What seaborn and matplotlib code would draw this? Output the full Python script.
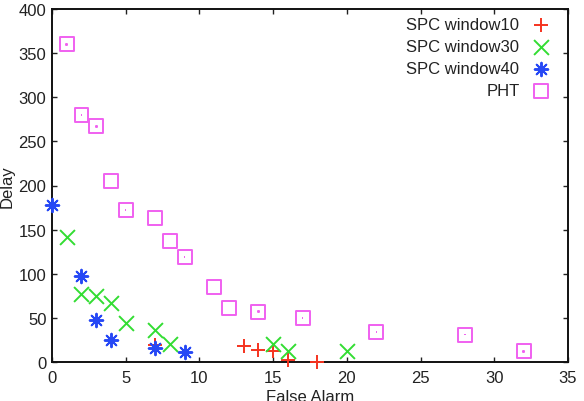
import matplotlib
matplotlib.use("Agg")
import matplotlib.pyplot as plt
from matplotlib.path import Path
import seaborn as sns
import numpy as np
import pandas as pd

# ---- data ----
w10_x = [7, 13, 14, 15, 16, 18]
w10_y = [19, 18, 14, 12, 2, 0]

w30_x = [1, 2, 3, 4, 5, 7, 8, 15, 16, 20]
w30_y = [142, 77, 75, 67, 44, 36, 20, 20, 13, 13]

w40_x = [0, 2, 3, 4, 7, 9]
w40_y = [178, 97, 48, 25, 16, 11]

pht_x = [1, 2, 3, 4, 5, 7, 8, 9, 11, 12, 14, 17, 22, 28, 32]
pht_y = [360, 280, 267, 205, 172, 163, 137, 119, 85, 61, 57, 50, 34, 31, 12]

labels = ["SPC window10", "SPC window30", "SPC window40", "PHT"]
x_ticks = [0, 5, 10, 15, 20, 25, 30, 35]
y_ticks = [0, 50, 100, 150, 200, 250, 300, 350, 400]

sns.set_theme(style="white")
plt.rcParams["font.family"] = ["Liberation Sans", "DejaVu Sans"]

fig = plt.figure(figsize=(5.84, 4.02), dpi=100)
ax = fig.add_axes([52 / 584, 1 - 363 / 402, (568 - 52) / 584, 353 / 402])

# square with centre dot marker (gnuplot style)
sq_verts = [(-0.5, -0.5), (0.5, -0.5), (0.5, 0.5), (-0.5, 0.5), (-0.5, -0.5),
            (-0.02, -0.02), (0.02, -0.02), (0.02, 0.02), (-0.02, 0.02), (-0.02, -0.02)]
sq_codes = [Path.MOVETO, Path.LINETO, Path.LINETO, Path.LINETO, Path.CLOSEPOLY,
            Path.MOVETO, Path.LINETO, Path.LINETO, Path.LINETO, Path.CLOSEPOLY]
sq_marker = Path(sq_verts, sq_codes)

red = "#f5331f"
green = "#33dd33"
blue = "#2648f5"
magenta = "#f060f0"

series = [
    (w10_x, w10_y, labels[0], "+", red, 90),
    (w30_x, w30_y, labels[1], "x", green, 115),
    (w40_x, w40_y, labels[2], (8, 2, 0), blue, 95),
]
for xs, ys, lab, mk, col, size in series:
    sns.scatterplot(x=xs, y=ys, ax=ax, marker=mk, color=col, s=size,
                    linewidth=1.4, label=lab, zorder=3, clip_on=False)

sns.scatterplot(x=pht_x, y=pht_y, ax=ax, marker=sq_marker, s=100,
                facecolor="none", edgecolor=magenta, linewidth=1.4,
                label=labels[3], zorder=3, clip_on=False)

ax.set_xlim(0, 35)
ax.set_ylim(0, 400)
ax.set_xticks(x_ticks)
ax.set_yticks(y_ticks)
ax.set_xlabel("False Alarm", fontsize=12, color="#222222", labelpad=3)
ax.set_ylabel("Delay", fontsize=12, color="#222222", labelpad=3)

for s in ax.spines.values():
    s.set_visible(True)
    s.set_color("#111111")
    s.set_linewidth(1.4)
    s.set_zorder(2)

ax.tick_params(axis="both", which="both", direction="in", length=3.5, width=1,
               colors="#222222", labelsize=12, top=True, right=True,
               bottom=True, left=True)
ax.tick_params(axis="x", pad=6)
ax.tick_params(axis="y", pad=4)
ax.grid(False)

leg = ax.legend(loc="upper right", frameon=False, markerfirst=False, fontsize=12,
                handletextpad=0.8, labelspacing=0.42, borderaxespad=0.0,
                handlelength=1.0, bbox_to_anchor=(0.977, 0.995))
for t in leg.get_texts():
    t.set_color("#222222")

fig.savefig("out.png", dpi=100)
